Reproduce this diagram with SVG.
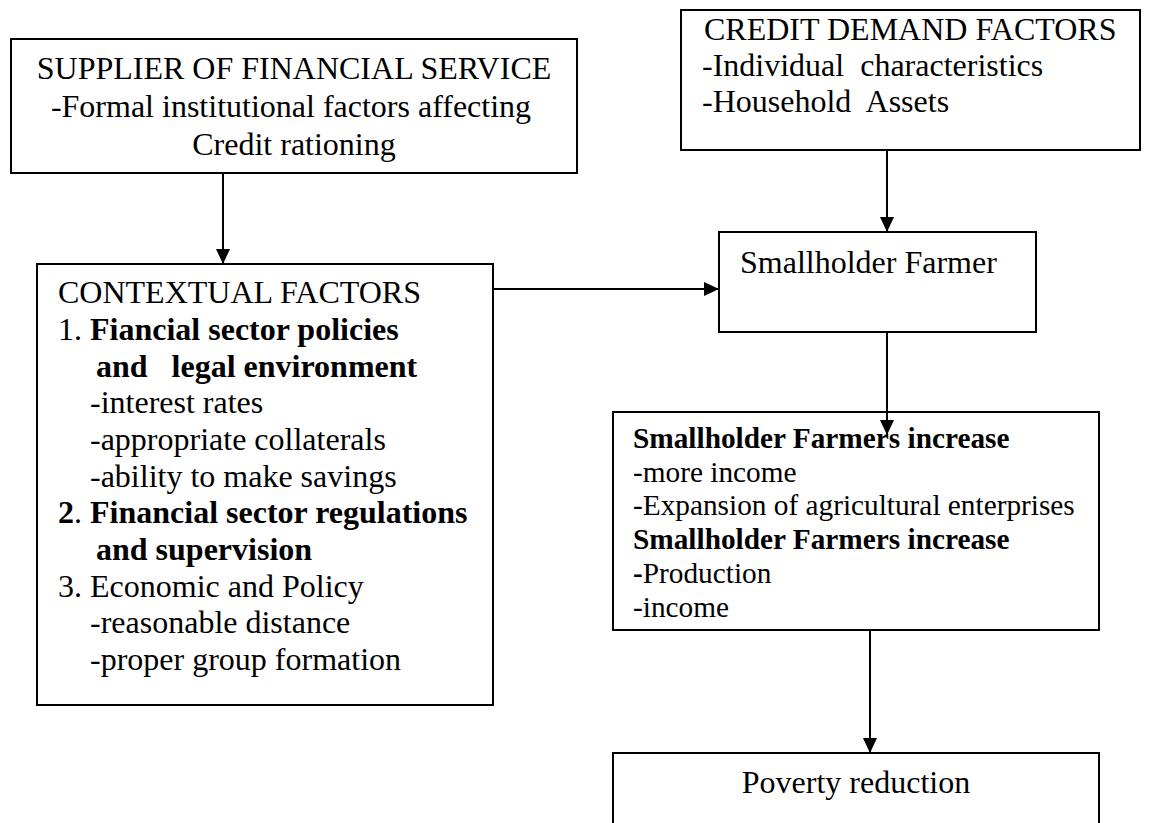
<svg xmlns="http://www.w3.org/2000/svg" width="1167" height="823" viewBox="0 0 1167 823">
<style>
.box{fill:#fff;stroke:#000;stroke-width:2}
.t{font-family:"Liberation Serif","Times New Roman",serif;font-size:32px;fill:#000;white-space:pre}
.s{font-size:29.3px}
.b{font-weight:bold}
.c{text-anchor:middle}
.ln{stroke:#000;stroke-width:2;fill:none;marker-end:url(#ah)}
</style>
<defs>
<marker id="ah" markerUnits="userSpaceOnUse" markerWidth="15" markerHeight="14" refX="15" refY="7" orient="auto">
<path d="M0,0 L15,7 L0,14 z" fill="#000"/>
</marker>
</defs>
<rect width="1167" height="823" fill="#fff"/>
<g id="supplier">
<rect class="box" x="11" y="39" width="566" height="134"/>
<text class="t c" x="294" y="79">SUPPLIER OF FINANCIAL SERVICE</text>
<text class="t c" x="291" y="117">-Formal institutional factors affecting</text>
<text class="t c" x="294" y="155">Credit rationing</text>
</g>
<g id="credit-demand">
<rect class="box" x="681" y="10" width="459" height="140"/>
<text class="t" x="704" y="40">CREDIT DEMAND FACTORS</text>
<text class="t" x="702" y="76" xml:space="preserve">-Individual  characteristics</text>
<text class="t" x="702" y="112" xml:space="preserve">-Household  Assets</text>
</g>
<g id="contextual">
<rect class="box" x="37" y="264" width="456" height="441"/>
<text class="t" x="58" y="303">CONTEXTUAL FACTORS</text>
<text class="t" x="58" y="340">1. <tspan class="b">Fiancial sector policies</tspan></text>
<text class="t b" x="96" y="377" xml:space="preserve">and   legal environment</text>
<text class="t" x="90" y="413">-interest rates</text>
<text class="t" x="90" y="450">-appropriate collaterals</text>
<text class="t" x="90" y="487">-ability to make savings</text>
<text class="t" x="58" y="523"><tspan class="b">2</tspan>. <tspan class="b">Financial sector regulations</tspan></text>
<text class="t b" x="96" y="560">and supervision</text>
<text class="t" x="58" y="597">3. Economic and Policy</text>
<text class="t" x="90" y="633">-reasonable distance</text>
<text class="t" x="90" y="670">-proper group formation</text>
</g>
<g id="smallholder">
<rect class="box" x="719" y="232" width="317" height="100"/>
<text class="t" x="740" y="273">Smallholder Farmer</text>
</g>
<g id="increase">
<rect class="box" x="613" y="412" width="486" height="218"/>
<text class="t s b" x="633" y="448">Smallholder Farmers increase</text>
<text class="t s" x="633" y="482">-more income</text>
<text class="t s" x="633" y="515">-Expansion of agricultural enterprises</text>
<text class="t s b" x="633" y="549">Smallholder Farmers increase</text>
<text class="t s" x="633" y="583"><tspan class="b">-</tspan>Production</text>
<text class="t s" x="633" y="617">-income</text>
</g>
<g id="poverty">
<rect class="box" x="613" y="753" width="486" height="80"/>
<text class="t c" x="856" y="793">Poverty reduction</text>
</g>
<g id="connectors">
<line class="ln" x1="223" y1="173" x2="223" y2="264"/>
<line class="ln" x1="887" y1="150" x2="887" y2="232"/>
<line class="ln" x1="493" y1="289" x2="719" y2="289"/>
<line class="ln" x1="887" y1="332" x2="887" y2="435"/>
<line class="ln" x1="870" y1="630" x2="870" y2="753"/>
</g>
</svg>
